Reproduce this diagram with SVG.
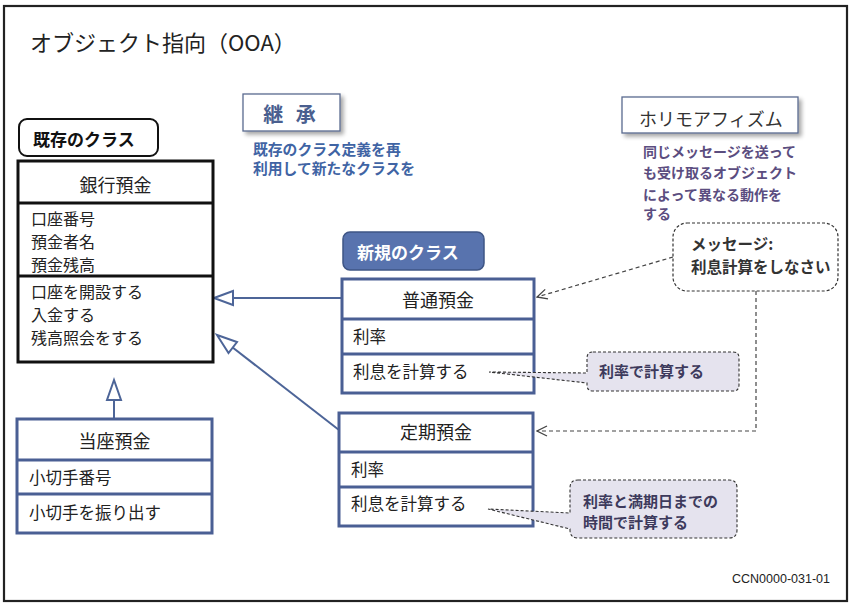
<svg xmlns="http://www.w3.org/2000/svg" width="855" height="607" viewBox="0 0 855 607">
<defs>
<style>
text{font-family:"Noto Sans CJK JP","Noto Sans",sans-serif;}
.t{font-size:16.5px;fill:#222;}
.tb{font-size:16px;fill:#222;}
.h{font-size:18px;fill:#222;text-anchor:middle;}
.cls{fill:#fff;stroke:#4a5f94;stroke-width:3;}
.div{stroke:#4a5f94;stroke-width:3;}
.conn{stroke:#4d6598;stroke-width:2;fill:none;}
.tri{stroke:#4d6598;stroke-width:2;fill:#fff;}
.dash{stroke:#444;stroke-width:1.2;stroke-dasharray:4 3;fill:none;}
.call{fill:#e5e3ee;stroke:#333;stroke-width:1.1;stroke-dasharray:3 2;}
.ct{font-size:15px;font-weight:bold;fill:#3d3a5c;}
</style>
<marker id="open" viewBox="0 0 12 12" refX="11" refY="6" markerWidth="12" markerHeight="12" markerUnits="userSpaceOnUse" orient="auto">
<path d="M1,1 L11,6 L1,11" fill="none" stroke="#444" stroke-width="1.3"/>
</marker>
<filter id="sh" x="-20%" y="-30%" width="150%" height="180%">
<feGaussianBlur in="SourceAlpha" stdDeviation="2"/>
<feOffset dx="3" dy="3" result="b"/>
<feComponentTransfer><feFuncA type="linear" slope="0.35"/></feComponentTransfer>
<feMerge><feMergeNode/><feMergeNode in="SourceGraphic"/></feMerge>
</filter>
</defs>
<rect x="0" y="0" width="855" height="607" fill="#fff"/>
<rect x="4" y="6" width="843" height="595" fill="#fff" stroke="#222" stroke-width="2.2"/>
<text x="30" y="51" style="font-size:22px;fill:#222;">オブジェクト指向（OOA）</text>

<g id="label-inherit">
<rect x="243" y="94" width="97" height="37" fill="#fff" stroke="#5a6a90" stroke-width="1.3" filter="url(#sh)"/>
<text x="291.5" y="122" text-anchor="middle" style="font-size:20px;font-weight:bold;fill:#4a5f8f;letter-spacing:4px;">継 承</text>
<text style="font-size:14.8px;font-weight:bold;fill:#4064a4;"><tspan x="253" y="155">既存のクラス定義を再</tspan><tspan x="253" y="174">利用して新たなクラスを</tspan></text>
</g>

<g id="label-poly">
<rect x="622" y="97" width="176" height="36" fill="#fff" stroke="#5a6a90" stroke-width="1.3" filter="url(#sh)"/>
<text x="639" y="126" style="font-size:18px;fill:#333;">ホリモアフィズム</text>
<text style="font-size:14px;font-weight:bold;fill:#5b4d7f;"><tspan x="643" y="157">同じメッセージを送って</tspan><tspan x="643" y="178">も受け取るオブジェクト</tspan><tspan x="643" y="200">によって異なる動作を</tspan><tspan x="643" y="219">する</tspan></text>
</g>

<g id="label-existing">
<rect x="19" y="119" width="139" height="37" rx="8" fill="#fff" stroke="#111" stroke-width="2"/>
<text x="33" y="146" style="font-size:17px;font-weight:bold;fill:#111;">既存のクラス</text>
</g>

<g id="label-new">
<rect x="343" y="232" width="141" height="38" rx="7" fill="#5873ae" stroke="#3e5585" stroke-width="1.5"/>
<text x="357" y="259" style="font-size:17px;font-weight:bold;fill:#fff;">新規のクラス</text>
</g>

<g id="connectors">
<line class="conn" x1="114" y1="419" x2="114" y2="400"/>
<polygon class="tri" points="114,380 107,400 121,400"/>
<line class="conn" x1="342" y1="298" x2="233" y2="298"/>
<polygon class="tri" points="214,298 233,291 233,305"/>
<line class="conn" x1="339" y1="430" x2="232" y2="347"/>
<polygon class="tri" points="217,335 228.5,353 237,342"/>
<line class="dash" x1="673" y1="257" x2="537" y2="297" marker-end="url(#open)"/>
<polyline class="dash" points="756,291 756,431 537,431" marker-end="url(#open)"/>
</g>

<g id="class-bank">
<rect x="18" y="161" width="195" height="201" fill="#fff" stroke="#111" stroke-width="3"/>
<line x1="18" y1="203" x2="213" y2="203" stroke="#111" stroke-width="3"/>
<line x1="18" y1="276" x2="213" y2="276" stroke="#111" stroke-width="3"/>
<text class="h" x="115.5" y="192">銀行預金</text>
<text class="tb" x="31" y="224.5">口座番号</text>
<text class="tb" x="31" y="247.7">預金者名</text>
<text class="tb" x="31" y="270.9">預金残高</text>
<text class="tb" x="31" y="297.5">口座を開設する</text>
<text class="tb" x="31" y="320.8">入金する</text>
<text class="tb" x="31" y="344.1">残高照会をする</text>
</g>

<g id="class-current">
<rect class="cls" x="17" y="419" width="195" height="114"/>
<line class="div" x1="17" y1="460" x2="212" y2="460"/>
<line class="div" x1="17" y1="494" x2="212" y2="494"/>
<text class="h" x="114.5" y="448">当座預金</text>
<text class="t" x="29" y="484">小切手番号</text>
<text class="t" x="29" y="519">小切手を振り出す</text>
</g>

<g id="class-ordinary">
<rect class="cls" x="342" y="279" width="192" height="114"/>
<line class="div" x1="342" y1="319" x2="534" y2="319"/>
<line class="div" x1="342" y1="354" x2="534" y2="354"/>
<text class="h" x="438" y="307">普通預金</text>
<text class="t" x="353" y="343">利率</text>
<text class="t" x="353" y="378">利息を計算する</text>
</g>

<g id="class-fixed">
<rect class="cls" x="339" y="413" width="194" height="113"/>
<line class="div" x1="339" y1="452" x2="533" y2="452"/>
<line class="div" x1="339" y1="487" x2="533" y2="487"/>
<text class="h" x="436" y="439">定期預金</text>
<text class="t" x="351" y="476">利率</text>
<text class="t" x="351" y="510">利息を計算する</text>
</g>

<g id="message">
<rect x="673" y="223" width="165" height="68" rx="14" fill="#fff" stroke="#333" stroke-width="1.2" stroke-dasharray="3 2"/>
<text style="font-size:15.5px;font-weight:bold;fill:#333;"><tspan x="691" y="250">メッセージ:</tspan><tspan x="691" y="273">利息計算をしなさい</tspan></text>
</g>

<g id="note-ordinary">
<path class="call" d="M593,352 H733 Q739,352 739,358 V385 Q739,391 733,391 H593 Q587,391 587,385 V383 L489,372 L587,373 V358 Q587,352 593,352 Z"/>
<text class="ct" x="599" y="377">利率で計算する</text>
</g>

<g id="note-fixed">
<path class="call" d="M578,480 H729 Q737,480 737,488 V530 Q737,538 729,538 H578 Q570,538 570,530 V529 L488,509 L570,513 V488 Q570,480 578,480 Z"/>
<text class="ct"><tspan x="583" y="507">利率と満期日までの</tspan><tspan x="583" y="528">時間で計算する</tspan></text>
</g>

<text x="732" y="583" style="font-family:'Liberation Sans',Arial,sans-serif;font-size:12.5px;fill:#222;">CCN0000-031-01</text>
</svg>
